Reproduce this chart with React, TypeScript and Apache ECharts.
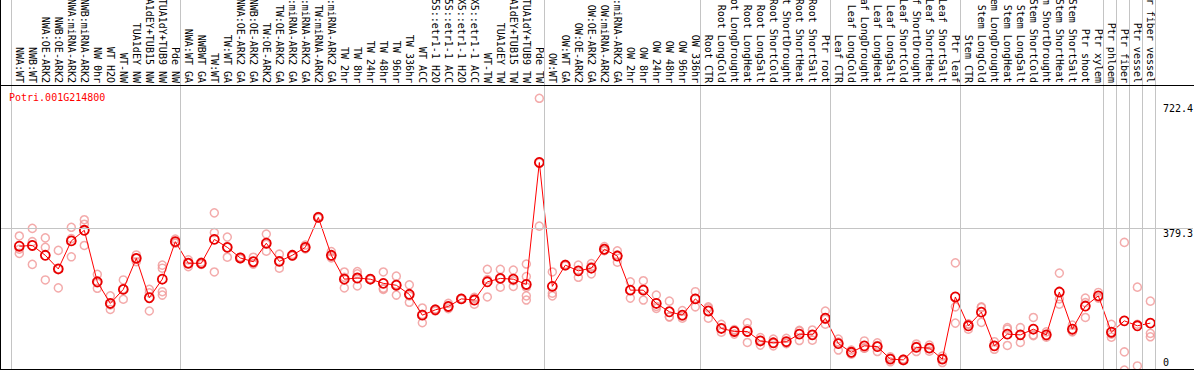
import React, { useEffect, useRef } from "react";
import * as echarts from "echarts";

const geneId = "Potri.001G214800";

const sampleLabels: string[] = [
  "NWA:WT", "NWB:WT", "NWA:OE-ARK2", "NWB:OE-ARK2", "NWA:miRNA-ARK2", "NWB:miRNA-ARK2", "NW 0hr", "WT H2O", "WT-NW", "TUA1dEY NW", "TUA1dEY+TUB15 NW", "TUA1dY+TUB9 NW", "Pde NW",
  "NWA:WT GA", "NWBWT GA", "TW:WT", "TW:WT GA", "NWA:OE-ARK2 GA", "NWB:OE-ARK2 GA", "TW:OE-ARK2", "TW:OE-ARK2 GA", "NWA:miRNA-ARK2 GA", "NWB:miRNA-ARK2 GA", "TW:miRNA-ARK2", "TW:miRNA-ARK2 GA",
  "TW 2hr", "TW 8hr", "TW 24hr", "TW 48hr", "TW 96hr", "TW 336hr", "WT ACC", "35S::etr1-1 H2O", "35S::etr1-1 ACC", "LMX5::etr1-1 H2O", "LMX5::etr1-1 ACC", "WT-TW", "TUA1dEY TW", "TUA1dEY+TUB15 TW", "TUA1dY+TUB9 TW", "Pde TW",
  "OW:WT", "OW:WT GA", "OW:OE-ARK2", "OW:OE-ARK2 GA", "OW:miRNA-ARK2", "OW:miRNA-ARK2 GA", "OW 2hr", "OW 8hr", "OW 24hr", "OW 48hr", "OW 96hr", "OW 336hr",
  "Root CTR", "Root LongCold", "Root LongDrought", "Root LongHeat", "Root LongSalt", "Root ShortCold", "Root ShortDrought", "Root ShortHeat", "Root ShortSalt", "Ptr root",
  "Leaf CTR", "Leaf LongCold", "Leaf LongDrought", "Leaf LongHeat", "Leaf LongSalt", "Leaf ShortCold", "Leaf ShortDrought", "Leaf ShortHeat", "Leaf ShortSalt", "Ptr leaf",
  "Stem CTR", "Stem LongCold", "Stem LongDrought", "Stem LongHeat", "Stem LongSalt", "Stem ShortCold", "Stem ShortDrought", "Stem ShortHeat", "Stem ShortSalt", "Ptr shoot", "Ptr xylem",
  "Ptr phloem", "Ptr fiber", "Ptr vessel", "Ptr fiber vessel",
];

// index of the first sample of each group (last entry = end)
const groupStarts: number[] = [0, 13, 41, 53, 63, 73, 84, 85, 86, 87, 88];

const meanValues: number[] = [
  332, 334, 308, 272, 346, 374, 238, 181, 218, 300, 196, 245, 344,
  287, 287, 350, 329, 301, 291, 340, 292, 308, 329, 408, 308, 245, 248, 245, 234, 229, 205, 150, 164, 173, 193, 190, 238, 247, 245, 231, 553,
  226, 282, 267, 274, 324, 306, 216, 216, 181, 159, 150, 193,
  161, 115, 107, 107, 82, 77, 80, 100, 98, 142,
  75, 52, 69, 67, 34, 32, 65, 63, 34, 198,
  122, 158, 69, 100, 98, 113, 98, 211, 113, 174, 201,
  105, 135, 122, 129,
];

const replicateValues: number[][] = [
  [359, 313, 324], [379, 344, 284], [354, 329, 243], [321, 272, 222], [382, 304, 352], [402, 390, 334], [258, 221, 235], [201, 165, 177], [243, 192, 219], [309, 300, 291], [218, 161, 209], [282, 274, 212, 203], [351, 340, 341],
  [296, 278, 287], [287, 290, 284], [420, 368, 264], [356, 303, 329], [300, 303, 299], [303, 286, 285], [364, 319, 337], [311, 274, 292], [310, 306, 308], [335, 325, 327], [409, 406, 410], [318, 301, 305], [264, 222, 250], [265, 259, 227], [244, 246, 245], [264, 221, 218], [253, 203, 231], [230, 184, 201], [169, 130, 152], [166, 161, 166], [181, 167, 172], [192, 194, 193], [179, 194, 197], [271, 198, 244], [271, 224, 247], [269, 226, 241], [285, 252, 224, 201, 190], [722.4, 385, 552],
  [264, 208, 201], [282, 280, 284], [282, 250, 268], [286, 259, 278], [331, 320, 321], [320, 290, 309], [238, 195, 216], [241, 190, 218], [203, 168, 173], [187, 146, 145], [162, 142, 147], [212, 172, 194],
  [172, 142, 169], [126, 105, 115], [100, 110, 112], [130, 78, 114], [91, 71, 83], [87, 69, 76], [89, 77, 75], [108, 83, 110], [111, 84, 98], [161, 126, 139],
  [87, 58, 79], [58, 47, 51], [82, 63, 63], [77, 54, 70], [40, 27, 36], [34, 30, 33], [74, 54, 68], [71, 55, 62], [42, 25, 35], [288, 172, 129],
  [126, 113, 127], [172, 131, 170], [80, 60, 68], [117, 70, 113], [117, 78, 98], [144, 96, 98], [106, 92, 95], [261, 179, 193], [124, 106, 108], [195, 144, 183], [210, 195, 197],
  [126, 100, 92], [342, 53, 5], [224, 126, 16], [187, 102, 93],
];

const yTickValues: number[] = [0, 379.3, 722.4];
const gridValue = 379.3;

const FONT = "DejaVu Sans Mono";
const X_MIN = -1.408;
const X_MAX = 90.28;

export default function App() {
  const ref = useRef<HTMLDivElement>(null);

  useEffect(() => {
    document.body.style.margin = "0";
    const chart = echarts.init(ref.current!, null, { renderer: "svg" });

    const idx = sampleLabels.map((_, i) => i);
    const meanData = meanValues.map((v, i) => [i, v]);
    const repData: number[][] = [];
    replicateValues.forEach((arr, i) => arr.forEach((v) => repData.push([i, v])));
    const separators = groupStarts.map((s) => ({ xAxis: s - 0.64 }));
    const sepLine = {
      silent: true,
      symbol: "none",
      label: { show: false },
      lineStyle: { color: "#c4c4c4", width: 1, type: "solid" },
    };

    const hiddenAxis = {
      axisLine: { show: false },
      axisTick: { show: false },
      axisLabel: { show: false },
      splitLine: { show: false },
    };

    chart.setOption({
      animation: false,
      backgroundColor: "#ffffff",
      title: {
        text: geneId,
        left: 9,
        top: 92,
        padding: 0,
        textStyle: { color: "#ff0000", fontSize: 10, fontFamily: FONT, fontWeight: "normal" },
      },
      grid: [
        { left: 1, right: 1, top: 85, height: 287, outerBoundsMode: "none", containLabel: false },
        { left: 1, right: 1, top: 0, height: 85, outerBoundsMode: "none", containLabel: false },
      ],
      xAxis: [
        {
          type: "value",
          gridIndex: 0,
          position: "top",
          min: X_MIN,
          max: X_MAX,
          axisLine: { show: true, onZero: false, lineStyle: { color: "#000000", width: 1 } },
          axisTick: { show: false },
          splitLine: { show: false },
          axisLabel: {
            rotate: 90,
            margin: 2,
            customValues: idx,
            formatter: (v: number) => sampleLabels[Math.round(v)] ?? "",
            color: "#000000",
            fontSize: 10,
            fontFamily: FONT,
          },
        },
        { type: "value", gridIndex: 1, min: X_MIN, max: X_MAX, ...hiddenAxis },
      ],
      yAxis: [
        {
          type: "value",
          gridIndex: 0,
          position: "right",
          min: 0,
          max: 757.5,
          axisLine: { show: false },
          axisTick: { show: false },
          splitLine: { show: false },
          axisLabel: {
            inside: true,
            margin: 30,
            align: "left",
            verticalAlign: "middle",
            lineHeight: 10,
            customValues: yTickValues,
            color: "#000000",
            fontSize: 10,
            fontFamily: FONT,
            formatter: (v: number) => {
              if (v === 0) return "0\n\n";
              if (v > 500) return "\n\n" + v;
              return "\n" + v;
            },
          },
        },
        { type: "value", gridIndex: 1, min: 0, max: 1, ...hiddenAxis },
      ],
      graphic: [
        { type: "line", shape: { x1: 0.5, y1: 0, x2: 0.5, y2: 370 }, style: { stroke: "#000", lineWidth: 1 }, z: 10 },
        { type: "line", shape: { x1: 0, y1: 369.5, x2: 1194, y2: 369.5 }, style: { stroke: "#000", lineWidth: 1 }, z: 10 },
        { type: "line", shape: { x1: 0, y1: 85.5, x2: 1194, y2: 85.5 }, style: { stroke: "#000", lineWidth: 1 }, z: 10 },
      ],
      series: [
        {
          type: "line",
          xAxisIndex: 1,
          yAxisIndex: 1,
          data: [],
          markLine: { ...sepLine, data: separators },
        },
        {
          type: "scatter",
          xAxisIndex: 0,
          yAxisIndex: 0,
          data: repData,
          symbol: "circle",
          symbolSize: 8,
          itemStyle: { color: "rgba(0,0,0,0)", borderColor: "#f09696", borderWidth: 1.5 },
          markLine: { ...sepLine, data: [...separators, { yAxis: gridValue }] },
          z: 2,
        },
        {
          type: "line",
          xAxisIndex: 0,
          yAxisIndex: 0,
          data: meanData,
          symbol: "circle",
          symbolSize: 9,
          showSymbol: true,
          lineStyle: { color: "#ff0000", width: 1 },
          itemStyle: { color: "rgba(0,0,0,0)", borderColor: "#e80000", borderWidth: 1.8 },
          z: 3,
        },
      ],
    });

    return () => chart.dispose();
  }, []);

  return (
    <div
      ref={ref}
      style={{ position: "absolute", left: 0, top: 0, width: 1194, height: 370 }}
    />
  );
}
